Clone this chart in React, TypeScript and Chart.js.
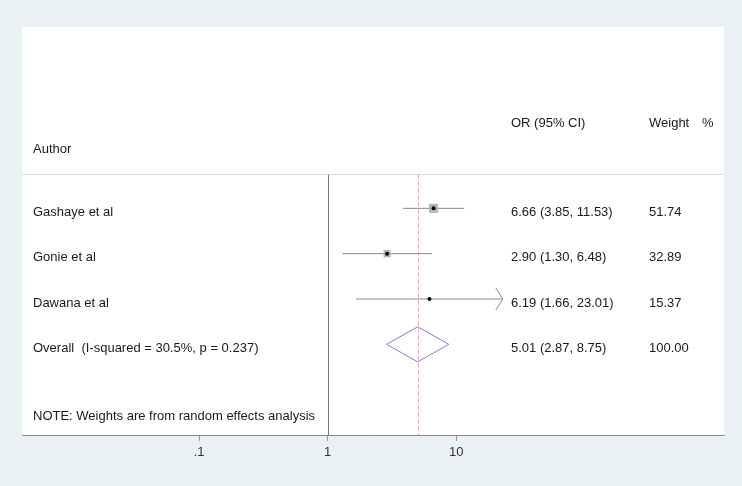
import React, { useEffect, useRef } from 'react';
import { Chart, registerables } from 'chart.js';

Chart.register(...registerables);

// ---- data ----
const studies = ['Gashaye et al', 'Gonie et al', 'Dawana et al'];
const orValues = [6.66, 2.9, 6.19];
const ciLow = [3.85, 1.3, 1.66];
const ciHigh = [11.53, 6.48, 23.01];
const weights = [51.74, 32.89, 15.37];
const ciArrowRight = [false, false, true];
const showBox = [true, true, false];

const overallLabel = 'Overall  (I-squared = 30.5%, p = 0.237)';
const overallOR = 5.01;
const overallLow = 2.87;
const overallHigh = 8.75;
const overallWeight = 100.0;

const noteText = 'NOTE: Weights are from random effects analysis';
const headerAuthor = 'Author';
const headerOR = 'OR (95% CI)';
const headerWeight = 'Weight';
const headerPct = '%';

const xTickValues = [0.1, 1, 10];
const xTickLabels = ['.1', '1', '10'];

// row positions (y scale units, 0 = axis, 9 = top)
const rowY = (i: number) => 5 - i;
const overallY = 2;
const noteY = 0.4;
const headerLineY = 5.76;
const headerTitleY = 6.88;
const authorY = 6.3;

const FONT = '13px "Liberation Sans", Arial, Helvetica, sans-serif';

export default function App() {
  const ref = useRef<HTMLCanvasElement>(null);

  useEffect(() => {
    document.body.style.margin = '0';
    const canvas = ref.current!;
    const datasets: any[] = [];

    studies.forEach((_, i) => {
      datasets.push({
        type: 'scatter',
        data: [
          { x: ciLow[i], y: rowY(i) },
          { x: ciHigh[i], y: rowY(i) },
        ],
        showLine: true,
        borderColor: '#8a8a8a',
        borderWidth: 1,
        pointRadius: 0,
        tension: 0,
        order: 3,
      });
    });

    datasets.push({
      type: 'scatter',
      data: studies.map((_, i) => ({ x: orValues[i], y: rowY(i) })),
      pointStyle: 'rect',
      pointRadius: weights.map((w, i) => (showBox[i] ? 0.89 * Math.sqrt(w) : 0)),
      backgroundColor: '#b6b6b6',
      borderWidth: 0,
      order: 2,
    });

    datasets.push({
      type: 'scatter',
      data: studies.map((_, i) => ({ x: orValues[i], y: rowY(i) })),
      pointStyle: 'circle',
      pointRadius: 2,
      backgroundColor: '#000000',
      borderWidth: 0,
      order: 1,
    });

    const dh = 0.386;
    datasets.push({
      type: 'scatter',
      data: [
        { x: overallLow, y: overallY },
        { x: overallOR, y: overallY + dh },
        { x: overallHigh, y: overallY },
        { x: overallOR, y: overallY - dh },
        { x: overallLow, y: overallY },
      ],
      showLine: true,
      borderColor: '#7f7fd4',
      borderWidth: 1,
      pointRadius: 0,
      tension: 0,
      order: 3,
    });

    const decor = {
      id: 'forestDecor',
      beforeDraw(chart: any) {
        const c = chart.ctx;
        const a = chart.chartArea;
        c.save();
        c.fillStyle = '#e9f1f3';
        c.fillRect(0, 0, chart.width, chart.height);
        c.fillStyle = '#ffffff';
        c.fillRect(a.left, a.top, a.right - a.left, a.bottom - a.top);
        c.restore();
      },
      beforeDatasetsDraw(chart: any) {
        const c = chart.ctx;
        const a = chart.chartArea;
        const xs = chart.scales.x;
        const ys = chart.scales.y;
        const hy = Math.round(ys.getPixelForValue(headerLineY)) + 0.5;
        c.save();
        c.lineWidth = 1;
        c.strokeStyle = '#dcdcdc';
        c.beginPath();
        c.moveTo(a.left, hy);
        c.lineTo(a.right, hy);
        c.stroke();
        const x1 = Math.round(xs.getPixelForValue(1)) + 0.5;
        c.strokeStyle = '#777777';
        c.beginPath();
        c.moveTo(x1, hy);
        c.lineTo(x1, a.bottom);
        c.stroke();
        const xd = Math.round(xs.getPixelForValue(overallOR)) + 0.5;
        c.strokeStyle = '#e3a3ad';
        c.setLineDash([4, 3]);
        c.beginPath();
        c.moveTo(xd, hy);
        c.lineTo(xd, a.bottom);
        c.stroke();
        c.restore();
      },
      afterDatasetsDraw(chart: any) {
        const c = chart.ctx;
        const xs = chart.scales.x;
        const ys = chart.scales.y;
        c.save();
        // arrows for truncated CIs
        c.strokeStyle = '#8a8a8a';
        c.lineWidth = 1;
        studies.forEach((_, i) => {
          if (!ciArrowRight[i]) return;
          const tx = xs.getPixelForValue(ciHigh[i]);
          const ty = ys.getPixelForValue(rowY(i));
          c.beginPath();
          c.moveTo(tx - 7, ty - 11);
          c.lineTo(tx, ty);
          c.lineTo(tx - 7, ty + 11);
          c.stroke();
        });
        // texts
        c.font = FONT;
        c.fillStyle = '#1a1a1a';
        c.textBaseline = 'middle';
        c.textAlign = 'left';
        const leftX = 33;
        const orX = 511;
        const wX = 649;
        const off = 4;
        c.fillText(headerAuthor, leftX, ys.getPixelForValue(authorY));
        c.fillText(headerOR, orX, ys.getPixelForValue(headerTitleY));
        c.fillText(headerWeight, wX, ys.getPixelForValue(headerTitleY));
        c.fillText(headerPct, 702, ys.getPixelForValue(headerTitleY));
        studies.forEach((s, i) => {
          const py = ys.getPixelForValue(rowY(i)) + off;
          c.fillText(s, leftX, py);
          c.fillText(
            `${orValues[i].toFixed(2)} (${ciLow[i].toFixed(2)}, ${ciHigh[i].toFixed(2)})`,
            orX,
            py
          );
          c.fillText(weights[i].toFixed(2), wX, py);
        });
        const oy = ys.getPixelForValue(overallY) + off;
        c.fillText(overallLabel, leftX, oy);
        c.fillText(
          `${overallOR.toFixed(2)} (${overallLow.toFixed(2)}, ${overallHigh.toFixed(2)})`,
          orX,
          oy
        );
        c.fillText(overallWeight.toFixed(2), wX, oy);
        c.fillText(noteText, leftX, ys.getPixelForValue(noteY));
        c.restore();
      },
    };

    const chart = new Chart(canvas, {
      type: 'scatter',
      data: { datasets },
      options: {
        responsive: false,
        animation: false,
        events: [],
        layout: { padding: { left: 22, right: 18, top: 27, bottom: 0 } },
        plugins: { legend: { display: false }, tooltip: { enabled: false } },
        scales: {
          x: {
            type: 'logarithmic',
            position: 'bottom',
            min: 0.0042,
            max: 1207,
            afterBuildTicks: (scale: any) => {
              scale.ticks = xTickValues.map((v) => ({ value: v }));
            },
            afterFit: (scale: any) => {
              scale.height = 51;
            },
            ticks: {
              autoSkip: false,
              maxRotation: 0,
              padding: 4,
              color: '#333333',
              font: { family: '"Liberation Sans", Arial, sans-serif', size: 13 },
              callback: (v: any) => {
                const idx = xTickValues.findIndex((t) => Math.abs(t - Number(v)) < 1e-9);
                return idx >= 0 ? xTickLabels[idx] : '';
              },
            },
            grid: {
              drawOnChartArea: false,
              drawTicks: true,
              tickLength: 6,
              tickColor: '#9a9a9a',
            },
            border: { display: true, color: '#8a8a8a', width: 1 },
          },
          y: {
            type: 'linear',
            min: 0,
            max: 9,
            display: false,
          },
        },
      },
      plugins: [decor],
    } as any);

    return () => chart.destroy();
  }, []);

  return (
    <div style={{ width: 742, height: 486 }}>
      <canvas ref={ref} width={742} height={486} style={{ display: 'block' }} />
    </div>
  );
}
